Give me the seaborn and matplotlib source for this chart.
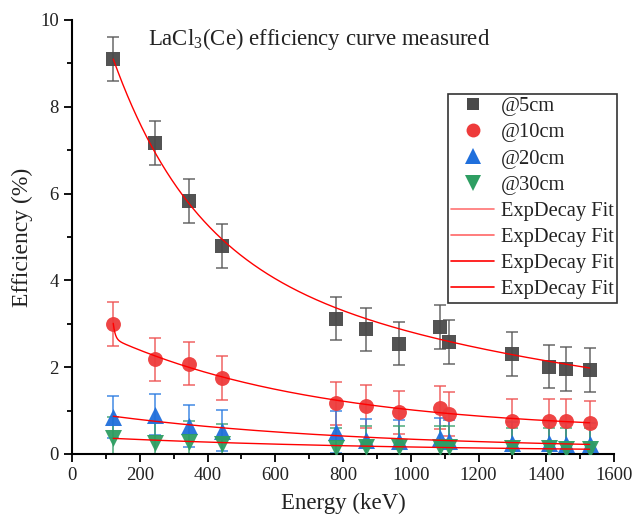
import numpy as np
import pandas as pd
import matplotlib
matplotlib.use("Agg")
import matplotlib.pyplot as plt
from matplotlib.lines import Line2D
import seaborn as sns

# Eu-152 lines (keV)
energy = [121.8, 244.7, 344.3, 443.9, 778.9, 867.4, 964.1, 1085.8, 1112.1, 1299.1, 1408.0, 1457.6, 1528.1]

eff_5cm = [9.10, 7.17, 5.83, 4.79, 3.12, 2.87, 2.54, 2.93, 2.58, 2.30, 2.01, 1.96, 1.94]
eff_10cm = [3.00, 2.18, 2.08, 1.75, 1.17, 1.10, 0.96, 1.07, 0.92, 0.77, 0.77, 0.76, 0.72]
eff_20cm = [0.86, 0.91, 0.65, 0.54, 0.50, 0.33, 0.31, 0.36, 0.30, 0.26, 0.25, 0.23, 0.23]
eff_30cm = [0.38, 0.26, 0.28, 0.22, 0.13, 0.17, 0.16, 0.17, 0.17, 0.13, 0.13, 0.12, 0.12]

err_5cm = [0.5] * 13
err_10cm = [0.5] * 13
err_20cm = [0.48] * 13
err_30cm = [0.48] * 13

series = ["@5cm", "@10cm", "@20cm", "@30cm"]

# ExpDecay fit parameters: y0, A1, t1, A2, t2 (x0 = first energy)
fit_5cm = (0.0, 4.56, 240.0, 4.54, 1683.0)
fit_10cm = (0.5, 0.36, 6.0, 2.15, 617.0)
fit_20cm = (0.1, 0.0, 1.0, 0.77, 757.0)
fit_30cm = (0.05, 0.0, 1.0, 0.31, 857.0)

effs = [eff_5cm, eff_10cm, eff_20cm, eff_30cm]
errs = [err_5cm, err_10cm, err_20cm, err_30cm]
fits = [fit_5cm, fit_10cm, fit_20cm, fit_30cm]

marker_colors = ["#4a4a4a", "#ee3b3b", "#1f6fdc", "#2e9e62"]
bar_colors = ["#555555", "#ee5050", "#2a7ae0", "#36a06a"]
markers = ["s", "o", "^", "v"]
marker_area = [95, 115, 150, 150]
legend_ms = [9, 10, 11, 11]

sns.set_theme(style="ticks")
plt.rcParams["font.family"] = ["Liberation Serif", "DejaVu Serif"]
plt.rcParams["mathtext.fontset"] = "custom"
plt.rcParams["mathtext.rm"] = "Liberation Serif"

rows = []
for name, e, s in zip(series, effs, errs):
    for x, y, d in zip(energy, e, s):
        rows.append({"energy": x, "eff": y, "err": d, "series": name})
df = pd.DataFrame(rows)

fit_rows = []
xs = np.linspace(energy[0], energy[-1], 3000)
for name, (y0, a1, t1, a2, t2) in zip(series, fits):
    dx = xs - energy[0]
    ys = y0 + a1 * np.exp(-dx / t1) + a2 * np.exp(-dx / t2)
    for x, y in zip(xs, ys):
        fit_rows.append({"energy": x, "eff": y, "series": name})
df_fit = pd.DataFrame(fit_rows)

fig = plt.figure(figsize=(6.32, 5.18), dpi=100)
ax = fig.add_axes([72 / 632, 64 / 518, 542 / 632, 434 / 518])

for name, c in zip(series, bar_colors):
    d = df[df["series"] == name]
    ax.errorbar(d["energy"], d["eff"], yerr=d["err"], fmt="none", ecolor=c,
                elinewidth=1.3, capsize=4, capthick=1.3, alpha=0.75, zorder=2)

for name, c, m, s in zip(series, marker_colors, markers, marker_area):
    d = df[df["series"] == name]
    sns.scatterplot(data=d, x="energy", y="eff", color=c, marker=m, s=s,
                    linewidth=0, alpha=0.95, legend=False, ax=ax, zorder=3)

sns.lineplot(data=df_fit, x="energy", y="eff", hue="series",
             palette=dict(zip(series, ["red"] * 4)), linewidth=1.0,
             estimator=None, sort=False, legend=False, ax=ax, zorder=4)

ax.set_xlim(0, 1600)
ax.set_ylim(0, 10)
ax.set_xticks(np.arange(0, 1601, 200))
ax.set_xticks(np.arange(100, 1600, 200), minor=True)
ax.set_yticks(np.arange(0, 11, 2))
ax.set_yticks(np.arange(1, 10, 2), minor=True)
ax.tick_params(axis="both", which="major", direction="out", length=6, width=1.3,
               labelsize=13.5, color="black", labelcolor="#222222")
ax.tick_params(axis="both", which="minor", direction="out", length=3.5, width=1.3,
               color="black")
for side in ["left", "bottom"]:
    ax.spines[side].set_linewidth(1.5)
    ax.spines[side].set_color("black")
ax.spines["top"].set_visible(False)
ax.spines["right"].set_visible(False)

ax.set_xlabel("Energy (keV)", fontsize=16.5, color="#222222", labelpad=6)
ax.set_ylabel("Efficiency (%)", fontsize=17, color="#222222", labelpad=5)

ax.text(0.14, 0.957, r"LaCl$_3$(Ce) efficiency curve measured", transform=ax.transAxes,
        fontsize=16.4, va="center", ha="left", color="#222222")

handles = []
for c, m, ms in zip(marker_colors, markers, legend_ms):
    handles.append(Line2D([], [], linestyle="none", marker=m, color=c,
                          markersize=ms, markeredgewidth=0))
for a in [0.55, 0.6, 1.0, 1.0]:
    handles.append(Line2D([], [], color="red", linewidth=1.2, alpha=a))
labels = series + ["ExpDecay Fit"] * 4

leg = ax.legend(handles, labels, loc="upper right", bbox_to_anchor=(1.006, 0.83),
                fontsize=14.8, frameon=True, fancybox=False, edgecolor="#333333",
                framealpha=1, handlelength=2.1, handletextpad=0.35,
                labelspacing=0.33, borderpad=0.15, borderaxespad=0)
leg.get_frame().set_linewidth(1.2)
for t in leg.get_texts():
    t.set_color("#222222")

fig.savefig("out.png", dpi=100)
